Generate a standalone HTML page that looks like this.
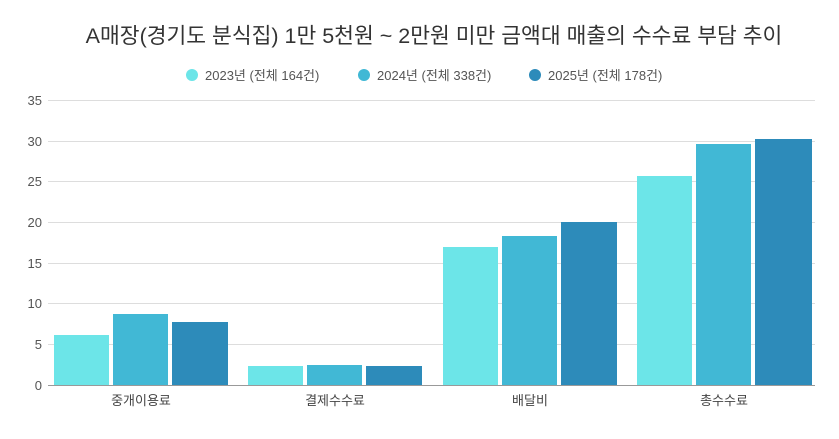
<!DOCTYPE html>
<html><head><meta charset="utf-8"><style>
body{margin:0;background:#fff;font-family:"Liberation Sans","Noto Sans CJK KR",sans-serif;}
</style></head><body>
<svg width="839" height="434" xmlns="http://www.w3.org/2000/svg" font-family="Liberation Sans, Noto Sans CJK KR, sans-serif">
<rect width="839" height="434" fill="#fff"/>
<text x="434" y="43" font-size="21.5" fill="#333" text-anchor="middle">A매장(경기도 분식집) 1만 5천원 ~ 2만원 미만 금액대 매출의 수수료 부담 추이</text>
<g font-size="13" fill="#555">
<circle cx="192" cy="75" r="6" fill="#6ce5e8"/><text x="205" y="80">2023년 (전체 164건)</text>
<circle cx="364" cy="75" r="6" fill="#41b8d5"/><text x="377" y="80">2024년 (전체 338건)</text>
<circle cx="535" cy="75" r="6" fill="#2d8bba"/><text x="548" y="80">2025년 (전체 178건)</text>
</g>
<g stroke="#ddd" stroke-width="1">
<line x1="48" x2="815" y1="100.5" y2="100.5"/><line x1="48" x2="815" y1="141.5" y2="141.5"/>
<line x1="48" x2="815" y1="181.5" y2="181.5"/><line x1="48" x2="815" y1="222.5" y2="222.5"/>
<line x1="48" x2="815" y1="263.5" y2="263.5"/><line x1="48" x2="815" y1="303.5" y2="303.5"/>
<line x1="48" x2="815" y1="344.5" y2="344.5"/>
</g>
<line x1="48" x2="815" y1="385.5" y2="385.5" stroke="#999"/>
<g font-size="13" fill="#555" text-anchor="end">
<text x="42" y="105">35</text><text x="42" y="146">30</text><text x="42" y="186">25</text>
<text x="42" y="227">20</text><text x="42" y="268">15</text><text x="42" y="308">10</text>
<text x="42" y="349">5</text><text x="42" y="390">0</text>
</g>
<g>
<rect x="54" y="335" width="55" height="50" fill="#6ce5e8"/>
<rect x="113" y="314" width="55" height="71" fill="#41b8d5"/>
<rect x="172" y="322" width="56" height="63" fill="#2d8bba"/>
<rect x="248" y="366" width="55" height="19" fill="#6ce5e8"/>
<rect x="307" y="365" width="55" height="20" fill="#41b8d5"/>
<rect x="366" y="366" width="56" height="19" fill="#2d8bba"/>
<rect x="443" y="247" width="55" height="138" fill="#6ce5e8"/>
<rect x="502" y="236" width="55" height="149" fill="#41b8d5"/>
<rect x="561" y="222" width="56" height="163" fill="#2d8bba"/>
<rect x="637" y="176" width="55" height="209" fill="#6ce5e8"/>
<rect x="696" y="144" width="55" height="241" fill="#41b8d5"/>
<rect x="755" y="139" width="57" height="246" fill="#2d8bba"/>
</g>
<g font-size="13" fill="#444" text-anchor="middle">
<text x="141" y="405">중개이용료</text><text x="335" y="405">결제수수료</text>
<text x="530" y="405">배달비</text><text x="724" y="405">총수수료</text>
</g>
</svg>
</body></html>
